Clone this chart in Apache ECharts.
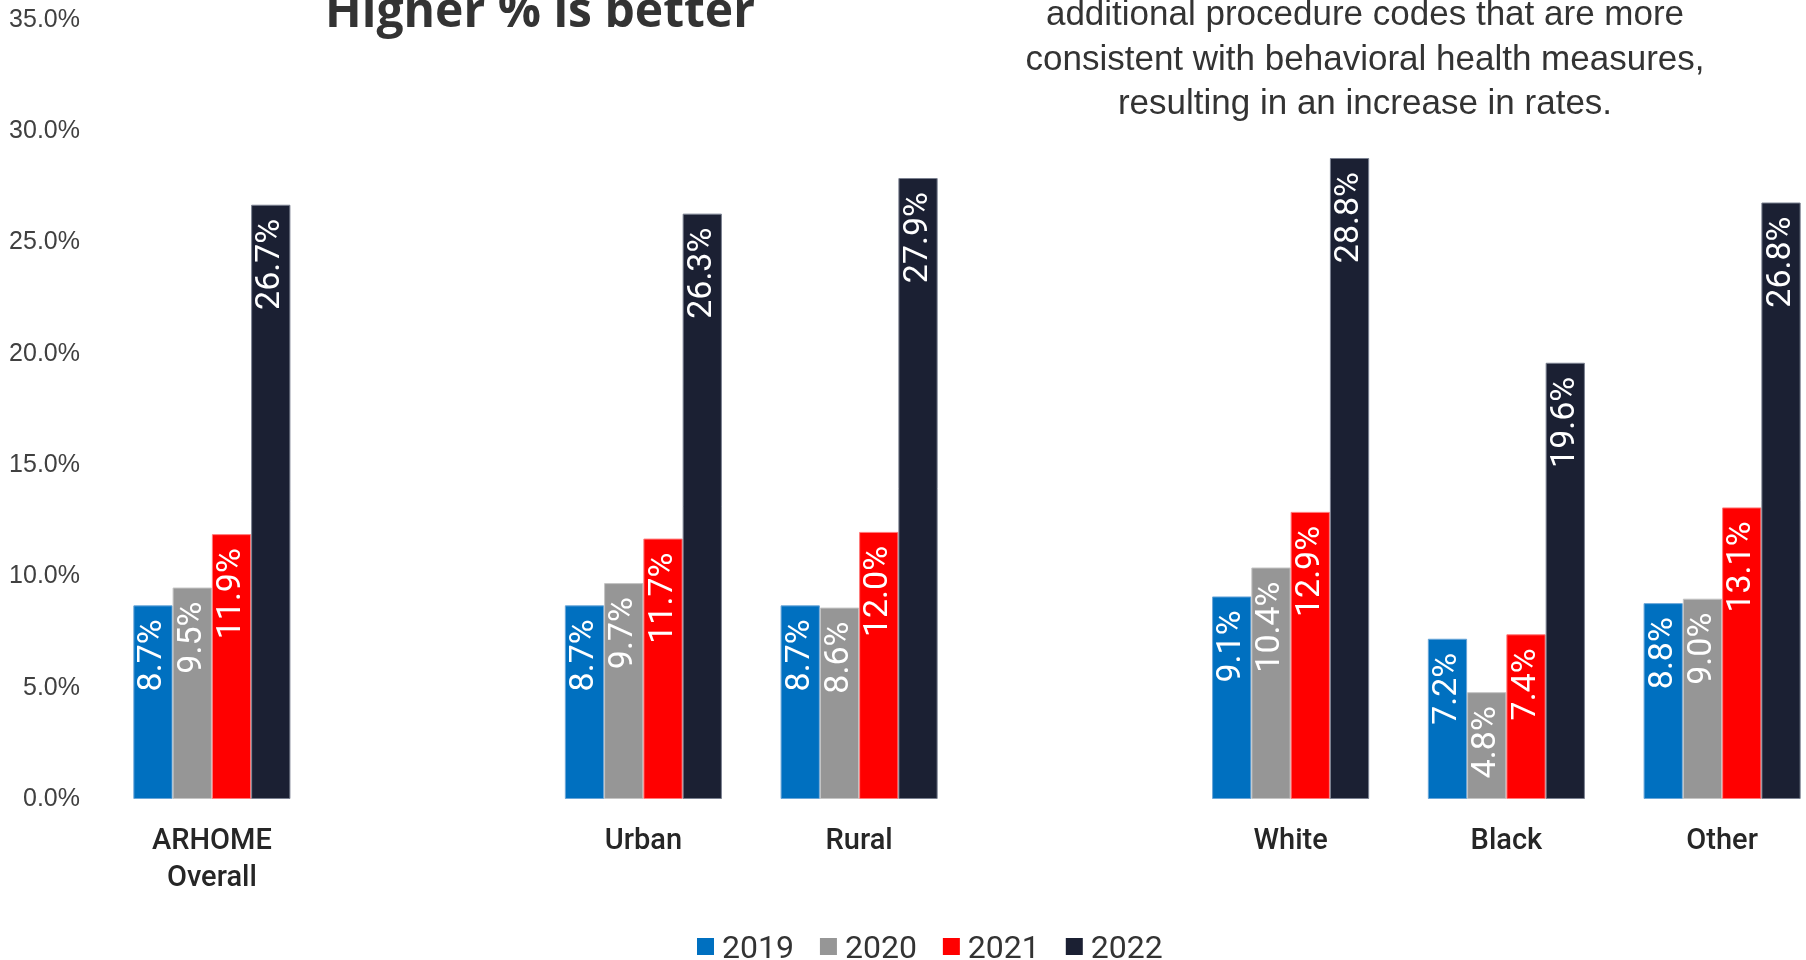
<!DOCTYPE html>
<html>
<head>
<meta charset="utf-8">
<title>ARHOME rates</title>
<script src="https://cdn.jsdelivr.net/npm/echarts@6/dist/echarts.min.js"></script>
<style>
  html, body { margin: 0; padding: 0; background: #fff; }
  #chart { width: 1806px; height: 960px; }
</style>
</head>
<body>
<div id="chart"></div>
<script>
var myChart = echarts.init(document.getElementById('chart'));

// categories (empty ones are the gaps between groups)
var categories = ['ARHOME\nOverall', '', 'Urban', 'Rural', '', 'White', 'Black', 'Other'];
var years = ['2019', '2020', '2021', '2022'];

// values in percent
var v2019 = [8.7, '-', 8.7, 8.7, '-', 9.1, 7.2, 8.8];
var v2020 = [9.5, '-', 9.7, 8.6, '-', 10.4, 4.8, 9.0];
var v2021 = [11.9, '-', 11.7, 12.0, '-', 12.9, 7.4, 13.1];
var v2022 = [26.7, '-', 26.3, 27.9, '-', 28.8, 19.6, 26.8];

var colors = ['#0070C0', '#969696', '#FF0000', '#1B2033'];
var borders = ['#6aa6d8', '#c4c4c4', '#ff7a7a', '#7a8090'];

var allValues = [v2019, v2020, v2021, v2022];
var series = [];
for (let i = 0; i < years.length; i++) {
    series.push({
        name: years[i],
        type: 'bar',
        data: allValues[i],
        barGap: '0%',
        barCategoryGap: '27.2%',
        itemStyle: {
            color: colors[i],
            borderColor: borders[i],
            borderWidth: 1
        },
        label: {
            show: true,
            position: 'insideTop',
            rotate: 90,
            align: 'right',
            verticalAlign: 'middle',
            distance: 14,
            color: '#fff',
            fontFamily: 'Roboto',
            fontSize: 34,
            formatter: function (p) {
                return p.value.toFixed(1) + '%';
            }
        }
    });
}

var option = {
    animation: false,
    color: colors,
    grid: {
        left: 104,
        right: -24,
        top: 20,
        height: 779,
        outerBoundsMode: 'none'
    },
    legend: {
        data: years,
        left: 692,
        top: 929,
        // square sits a bit above the middle of the text
        icon: 'path://M0,0H17V17H0Z M0,24H17V24.01H0Z',
        itemWidth: 17,
        itemHeight: 24,
        itemGap: 26,
        itemStyle: { borderWidth: 0 },
        textStyle: {
            color: '#333',
            fontFamily: 'Roboto',
            fontSize: 32,
            padding: [0, 0, 0, 3]
        }
    },
    xAxis: {
        type: 'category',
        data: categories,
        axisLine: { show: false },
        axisTick: { show: false },
        axisLabel: {
            interval: 0,
            margin: 24,
            color: '#262626',
            fontFamily: 'Roboto',
            fontWeight: 500,
            fontSize: 29,
            lineHeight: 37
        }
    },
    yAxis: {
        type: 'value',
        min: 0,
        max: 35,
        interval: 5,
        axisLine: { show: false },
        axisTick: { show: false },
        splitLine: { show: false },
        axisLabel: {
            margin: 24,
            color: '#404040',
            fontFamily: 'Liberation Sans',
            fontSize: 25,
            formatter: function (v) {
                return v.toFixed(1) + '%';
            }
        }
    },
    graphic: [
        {
            type: 'text',
            x: 540,
            y: 13,
            style: {
                text: 'Higher % is better',
                font: 'bold 48px "Open Sans"',
                fill: '#333',
                align: 'center',
                verticalAlign: 'middle'
            }
        },
        {
            type: 'text',
            x: 1365,
            y: 60,
            style: {
                text: 'additional procedure codes that are more\nconsistent with behavioral health measures,\nresulting in an increase in rates.',
                font: '35px "Liberation Sans"',
                lineHeight: 44.5,
                fill: '#333',
                align: 'center',
                verticalAlign: 'middle'
            }
        }
    ],
    series: series
};
myChart.setOption(option);
</script>
</body>
</html>
